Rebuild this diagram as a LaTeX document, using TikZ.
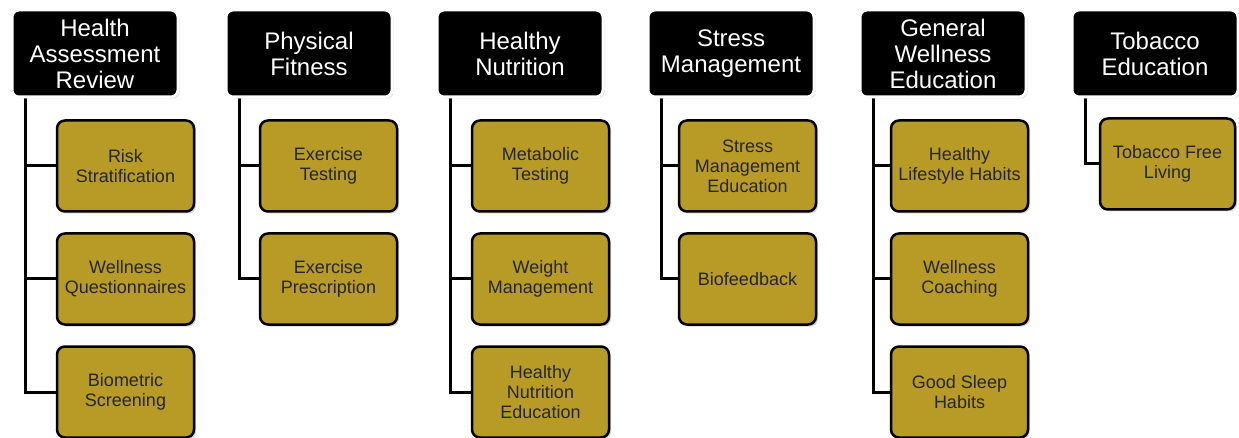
\documentclass[tikz,border=0pt]{standalone}
\usepackage{fontspec}
\setmainfont{Liberation Sans}
\usepackage{tikz}
\usetikzlibrary{shadows,backgrounds}
\definecolor{gold}{RGB}{183,155,38}
\tikzset{
  head/.style={draw=white, line width=3pt, fill=black, rounded corners=7pt,
    minimum width=166pt, minimum height=87pt, inner sep=0pt, align=center,
    text=white, font=\fontsize{24}{26}\selectfont,
    drop shadow={shadow xshift=1.5pt, shadow yshift=-1.5pt, opacity=0.35}},
  item/.style={draw=black, line width=2.5pt, fill=gold, rounded corners=8pt,
    minimum width=137pt, minimum height=91pt, inner sep=0pt, align=center,
    text=black!85, font=\fontsize{18}{20}\selectfont,
    drop shadow={shadow xshift=2pt, shadow yshift=-2pt, opacity=0.35}},
  link/.style={line width=3pt, black}
}
\begin{document}
\begin{tikzpicture}[x=1pt, y=-1pt]
\useasboundingbox (0,0) rectangle (1239,438);
\node [head] (h1) at (95,53.5) {Health\\Assessment\\Review};
\node [head] (h2) at (309,53.5) {Physical\\Fitness};
\node [head] (h3) at (520,53.5) {Healthy\\Nutrition};
\node [head] (h4) at (731,53.5) {Stress\\Management};
\node [head] (h5) at (943,53.5) {General\\Wellness\\Education};
\node [head] (h6) at (1155,53.5) {Tobacco\\Education};
\node [item] (c11) at (125.5,166) {Risk\\Stratification};
\node [item] (c12) at (125.5,279) {Wellness\\Questionnaires};
\node [item] (c13) at (125.5,392) {Biometric\\Screening};
\node [item] (c21) at (328.5,166) {Exercise\\Testing};
\node [item] (c22) at (328.5,279) {Exercise\\Prescription};
\node [item] (c31) at (540.5,166) {Metabolic\\Testing};
\node [item] (c32) at (540.5,279) {Weight\\Management};
\node [item] (c33) at (540.5,392) {Healthy\\Nutrition\\Education};
\node [item] (c41) at (747.5,166) {Stress\\Management\\Education};
\node [item] (c42) at (747.5,279) {Biofeedback};
\node [item] (c51) at (959.5,166) {Healthy\\Lifestyle Habits};
\node [item] (c52) at (959.5,279) {Wellness\\Coaching};
\node [item] (c53) at (959.5,392) {Good Sleep\\Habits};
\node [item, minimum width=135pt] (c61) at (1167.5,164) {Tobacco Free\\Living};
\begin{scope}[on background layer]
\draw [link] ([xshift=15pt]h1.south west) |- (c11.west);
\draw [link] ([xshift=15pt]h1.south west) |- (c12.west);
\draw [link] ([xshift=15pt]h1.south west) |- (c13.west);
\draw [link] ([xshift=15pt]h2.south west) |- (c21.west);
\draw [link] ([xshift=15pt]h2.south west) |- (c22.west);
\draw [link] ([xshift=15pt]h3.south west) |- (c31.west);
\draw [link] ([xshift=15pt]h3.south west) |- (c32.west);
\draw [link] ([xshift=15pt]h3.south west) |- (c33.west);
\draw [link] ([xshift=15pt]h4.south west) |- (c41.west);
\draw [link] ([xshift=15pt]h4.south west) |- (c42.west);
\draw [link] ([xshift=15pt]h5.south west) |- (c51.west);
\draw [link] ([xshift=15pt]h5.south west) |- (c52.west);
\draw [link] ([xshift=15pt]h5.south west) |- (c53.west);
\draw [link] ([xshift=15pt]h6.south west) |- (c61.west);
\end{scope}
\end{tikzpicture}
\end{document}
